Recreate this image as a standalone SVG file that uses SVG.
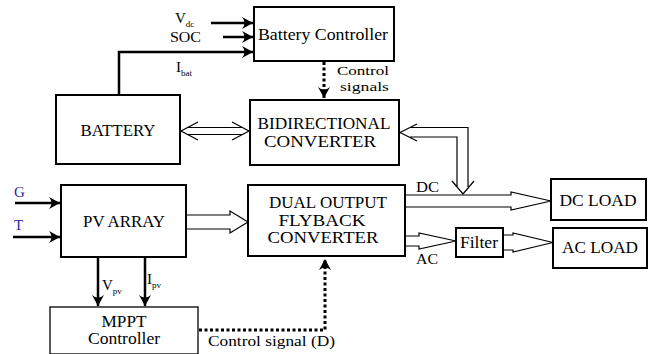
<svg xmlns="http://www.w3.org/2000/svg" width="651" height="354" viewBox="0 0 651 354" font-family="'Liberation Serif', 'DejaVu Serif', serif">
<defs>
<marker id="dart" viewBox="-12 -7 13 14" refX="0" refY="0" markerWidth="13" markerHeight="14" markerUnits="userSpaceOnUse" orient="auto">
<path d="M0,0 L-11,-6 Q-6,0 -11,6 Z" fill="#000"/>
</marker>
</defs>
<style>
.t{font-size:16px;text-anchor:middle;}
.s{font-size:15px;}
.c{font-size:13.5px;}
.sub{font-size:9px;}
.box{fill:#fff;stroke:#000;stroke-width:2;}
.thin{fill:#fff;stroke:#000;stroke-width:1.3;}
.wire{fill:none;stroke:#000;stroke-width:2.5;}
.dot{fill:none;stroke:#000;stroke-width:3;stroke-dasharray:3 2.5;}
.hol{fill:#fff;stroke:#000;stroke-width:1.2;stroke-linejoin:miter;}
.holl{fill:none;stroke:#000;stroke-width:1.2;}
.blue{fill:#2b2b9e;}
</style>
<rect width="651" height="354" fill="#fff"/>

<g id="connectors">
<line class="wire" x1="211" y1="23" x2="253" y2="23" marker-end="url(#dart)"/>
<line class="wire" x1="223" y1="37" x2="253" y2="37" marker-end="url(#dart)"/>
<polyline class="wire" points="119,95 119,52 253,52" marker-end="url(#dart)"/>
<line class="dot" x1="324" y1="62" x2="324" y2="98" marker-end="url(#dart)"/>
<line class="wire" x1="15" y1="203" x2="60" y2="203" marker-end="url(#dart)"/>
<line class="wire" x1="13" y1="237" x2="60" y2="237" marker-end="url(#dart)"/>
<line class="wire" x1="98" y1="257" x2="98" y2="306" stroke-width="3" marker-end="url(#dart)"/>
<line class="wire" x1="145" y1="257" x2="145" y2="306" stroke-width="3" marker-end="url(#dart)"/>
<polyline class="dot" points="199,330 325,330 325,259" marker-end="url(#dart)"/>
<path class="holl" d="M198,122 L181,131 L198,140 M232,122 L249,131 L232,140 M188,127.5 H242 M188,134.5 H242"/>
<path class="holl" d="M417,124 L400,132.5 L417,141 M410,127.5 H468 V187 M410,137 H457 V187 M452,181 L463,194 L474,181"/>
<path class="hol" d="M406,195 H511 V192 L551,201 L511,210 V207 H406"/>
<path class="hol" d="M406,236 H419 V233 L456,241 L419,249 V246 H406"/>
<path class="hol" d="M503,235 H513 V233 L553,242.5 L513,252 V250 H503"/>
<path class="hol" d="M186,215 H230 V211 L248,222 L230,233 V229 H186"/>
</g>

<g id="battery-controller">
<rect class="box" x="254" y="7" width="140" height="54"/>
<text class="t" x="323" y="40" textLength="130" lengthAdjust="spacingAndGlyphs">Battery Controller</text>
</g>
<g id="battery">
<rect class="box" x="56" y="95" width="124" height="69"/>
<text class="t" x="118" y="136" textLength="75" lengthAdjust="spacingAndGlyphs">BATTERY</text>
</g>
<g id="bidirectional-converter">
<rect class="box" x="250" y="100" width="149" height="65"/>
<text class="t" x="324" y="129" textLength="133" lengthAdjust="spacingAndGlyphs">BIDIRECTIONAL</text>
<text class="t" x="320" y="147" textLength="112" lengthAdjust="spacingAndGlyphs">CONVERTER</text>
</g>
<g id="pv-array">
<rect class="box" x="61" y="185" width="125" height="72"/>
<text class="t" x="124" y="227" textLength="82" lengthAdjust="spacingAndGlyphs">PV ARRAY</text>
</g>
<g id="flyback-converter">
<rect class="box" x="248" y="185" width="157" height="71"/>
<text class="t" x="328" y="208" textLength="118" lengthAdjust="spacingAndGlyphs">DUAL OUTPUT</text>
<text class="t" x="322" y="226" textLength="87" lengthAdjust="spacingAndGlyphs">FLYBACK</text>
<text class="t" x="323" y="243" textLength="111" lengthAdjust="spacingAndGlyphs">CONVERTER</text>
</g>
<g id="dc-load">
<rect class="box" x="551" y="179" width="95" height="41"/>
<text class="t" x="598" y="206" textLength="77" lengthAdjust="spacingAndGlyphs">DC LOAD</text>
</g>
<g id="filter">
<rect class="box" x="456" y="228" width="47" height="29"/>
<text class="t" x="479" y="248" textLength="38" lengthAdjust="spacingAndGlyphs">Filter</text>
</g>
<g id="ac-load">
<rect class="box" x="553" y="228" width="94" height="40"/>
<text class="t" x="600" y="253" textLength="76" lengthAdjust="spacingAndGlyphs">AC LOAD</text>
</g>
<g id="mppt-controller">
<rect class="thin" x="50" y="307" width="148" height="47"/>
<text class="t" x="124" y="327" textLength="45" lengthAdjust="spacingAndGlyphs">MPPT</text>
<text class="t" x="124" y="344" textLength="72" lengthAdjust="spacingAndGlyphs">Controller</text>
</g>

<g id="labels">
<text class="s" x="175" y="23">V<tspan class="sub" dy="4">dc</tspan></text>
<text class="s" x="170" y="42" textLength="31" lengthAdjust="spacingAndGlyphs">SOC</text>
<text class="s" x="176" y="72">I<tspan class="sub" dy="4">bat</tspan></text>
<text class="c" x="337" y="75" textLength="52" lengthAdjust="spacingAndGlyphs">Control</text>
<text class="c" x="340" y="91" textLength="49" lengthAdjust="spacingAndGlyphs">signals</text>
<text class="s" x="416" y="192" textLength="23" lengthAdjust="spacingAndGlyphs">DC</text>
<text class="s" x="416" y="264" textLength="22" lengthAdjust="spacingAndGlyphs">AC</text>
<text class="s blue" x="14" y="197">G</text>
<text class="s blue" x="14" y="230">T</text>
<text class="s" x="102" y="290">V<tspan class="sub" dy="4">pv</tspan></text>
<text class="s" x="147" y="284">I<tspan class="sub" dy="4">pv</tspan></text>
<text class="s" x="208" y="346" textLength="127" lengthAdjust="spacingAndGlyphs">Control signal (D)</text>
</g>
</svg>
